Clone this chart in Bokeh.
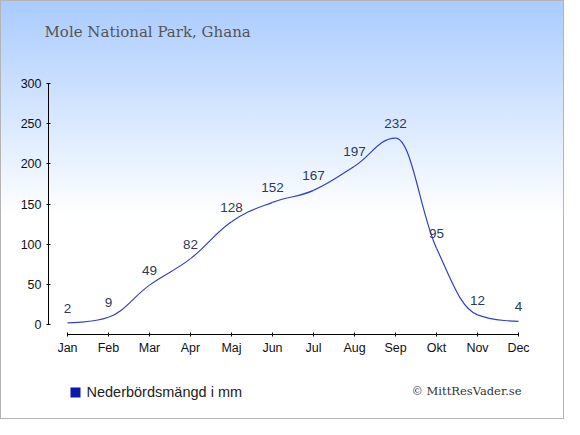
from bokeh.plotting import figure
from bokeh.models import ColumnDataSource, FixedTicker, Label, Range1d, BoxAnnotation
from bokeh.core.properties import value
from bokeh.embed import file_html
from bokeh.resources import INLINE

months = ["Jan", "Feb", "Mar", "Apr", "Maj", "Jun", "Jul", "Aug", "Sep", "Okt", "Nov", "Dec"]
rain = [2, 9, 49, 82, 128, 152, 167, 197, 232, 95, 12, 4]
y_ticks = [0, 50, 100, 150, 200, 250, 300]
title_text = "Mole National Park, Ghana"
legend_text = "Nederbördsmängd i mm"
credit_text = "© MittResVader.se"

xs = list(range(len(months)))

# spline control points (Highcharts-like smoothing)
n = len(xs)
lc = [None] * n
rc = [None] * n
sm = 1.5
den = sm + 1
for i in range(1, n - 1):
    px, py = xs[i], rain[i]
    lx, ly = xs[i - 1], rain[i - 1]
    nx, ny = xs[i + 1], rain[i + 1]
    lcx = (sm * px + lx) / den
    lcy = (sm * py + ly) / den
    rcx = (sm * px + nx) / den
    rcy = (sm * py + ny) / den
    corr = ((rcy - lcy) * (rcx - px)) / (rcx - lcx) + py - rcy
    lcy += corr
    rcy += corr
    if lcy > ly and lcy > py:
        lcy = max(ly, py); rcy = 2 * py - lcy
    elif lcy < ly and lcy < py:
        lcy = min(ly, py); rcy = 2 * py - lcy
    if rcy > ny and rcy > py:
        rcy = max(ny, py); lcy = 2 * py - rcy
    elif rcy < ny and rcy < py:
        rcy = min(ny, py); lcy = 2 * py - rcy
    lc[i] = (lcx, lcy)
    rc[i] = (rcx, rcy)

seg = dict(x0=[], y0=[], x1=[], y1=[], cx0=[], cy0=[], cx1=[], cy1=[])
for i in range(1, n):
    a = rc[i - 1] if rc[i - 1] else (xs[i - 1], rain[i - 1])
    b = lc[i] if lc[i] else (xs[i], rain[i])
    seg["x0"].append(xs[i - 1]); seg["y0"].append(rain[i - 1])
    seg["x1"].append(xs[i]); seg["y1"].append(rain[i])
    seg["cx0"].append(a[0]); seg["cy0"].append(a[1])
    seg["cx1"].append(b[0]); seg["cy1"].append(b[1])

# layout helpers: reference page pixel -> data coordinates
SX = 41.0
SY = 241.0 / 300.0
def X(px):
    return (px - 74) / SX
def Y(py):
    return (331 - py) / SY

W, H = 564, 419
p = figure(width=W, height=H, output_backend="svg", toolbar_location=None,
           x_range=Range1d(X(8), X(8 + W)), y_range=Range1d(Y(8 + H), Y(8)),
           min_border=0,
           styles={"background-image": "linear-gradient(to bottom, #a9cbff 0px, #ffffff 215px)",
                   "border": "1px solid #b4b4b4"})
p.background_fill_color = None
p.border_fill_color = None
p.outline_line_color = None
p.grid.visible = False

p.xaxis.ticker = FixedTicker(ticks=xs)
p.xaxis.major_label_overrides = {i: m for i, m in enumerate(months)}
p.xaxis.bounds = (0, 11)
p.xaxis.fixed_location = Y(341)
p.yaxis.ticker = FixedTicker(ticks=y_ticks)
p.yaxis.bounds = (0, 300)
p.yaxis.fixed_location = X(55)
for ax in (p.xaxis, p.yaxis):
    ax.axis_line_color = "#000000"
    ax.major_tick_line_color = "#000000"
    ax.major_tick_in = 2
    ax.major_tick_out = 2
    ax.minor_tick_line_color = None
    ax.major_label_text_font = "Liberation Sans"
    ax.major_label_text_font_size = "12.5px"
    ax.major_label_text_color = "#111111"
p.xaxis.major_label_standoff = 4
p.yaxis.major_label_standoff = 5

src = ColumnDataSource(seg)
p.bezier(x0="x0", y0="y0", x1="x1", y1="y1", cx0="cx0", cy0="cy0", cx1="cx1", cy1="cy1",
         source=src, line_color="#3340c8", line_width=1.2)

lab = ColumnDataSource(dict(x=xs, y=rain, t=[str(v) for v in rain]))
p.text(x="x", y="y", text="t", source=lab, text_align="center", text_baseline="bottom",
       y_offset=-10, text_font=value("Liberation Sans"), text_font_size="13.5px",
       text_color="#2a3a5c")

p.add_layout(Label(x=X(51), y=Y(38), text=title_text, text_font="DejaVu Serif",
                   text_font_size="15px", text_color="#555555", text_baseline="alphabetic"))
p.add_layout(BoxAnnotation(left=X(77), right=X(87), top=Y(394), bottom=Y(404),
                           fill_color="#0a1aa8", fill_alpha=1, line_color="#7f88cc",
                           line_width=0.5))
p.add_layout(Label(x=X(93), y=Y(398), text=legend_text, text_font="Liberation Sans",
                   text_font_size="14.5px", text_color="#222222", text_baseline="middle"))
p.add_layout(Label(x=X(528), y=Y(397), text=credit_text, text_font="DejaVu Serif",
                   text_font_size="11.5px", text_color="#333333", text_baseline="middle",
                   text_align="right"))

open("out.html", "w").write(file_html(p, INLINE))
